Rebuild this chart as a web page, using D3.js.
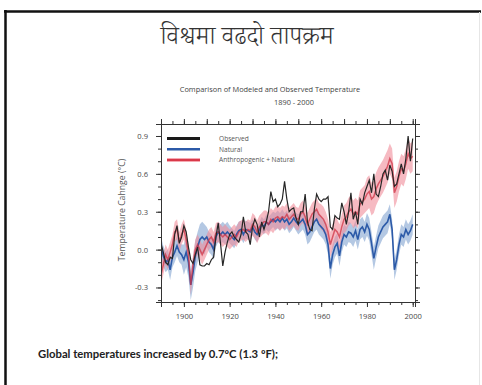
<!DOCTYPE html>
<html>
<head>
<meta charset="utf-8">
<script src="https://cdn.jsdelivr.net/npm/d3@7"></script>
<style>
  html, body { margin: 0; padding: 0; background: #fff; }
  svg { display: block; }
</style>
</head>
<body>
<div id="chart"></div>
<script>
// years on the x axis
const years = d3.range(1890, 2001);

// observed anomaly (black)
const observed = [
  0.05, -0.02, -0.10, -0.12, -0.06, -0.07, 0.12, 0.19, 0.05, 0.10,
  0.19, 0.14, 0.02, -0.08, -0.11, -0.04, 0.02, -0.12, -0.13, -0.13,
  -0.11, -0.12, -0.08, -0.06, 0.10, 0.21, 0.05, -0.13, -0.02, 0.06,
  0.12, 0.14, 0.10, 0.08, 0.06, 0.12, 0.26, 0.14, 0.12, 0.04,
  0.18, 0.24, 0.20, 0.10, 0.22, 0.16, 0.22, 0.30, 0.46, 0.38,
  0.40, 0.34, 0.36, 0.40, 0.54, 0.40, 0.30, 0.32, 0.33, 0.25,
  0.20, 0.30, 0.30, 0.44, 0.22, 0.16, 0.15, 0.32, 0.44, 0.40,
  0.38, 0.40, 0.40, 0.42, 0.18, 0.16, 0.27, 0.25, 0.24, 0.37,
  0.30, 0.20, 0.30, 0.45, 0.24, 0.30, 0.20, 0.40, 0.36, 0.45,
  0.50, 0.55, 0.45, 0.60, 0.44, 0.42, 0.50, 0.60, 0.63, 0.55,
  0.67, 0.62, 0.50, 0.52, 0.60, 0.68, 0.60, 0.72, 0.90, 0.70,
  0.88
];

// natural forcing model (blue)
const natural = [
  0.02, -0.05, -0.10, -0.08, -0.16, -0.06, -0.02, 0.03, -0.02, -0.04,
  -0.08, -0.02, -0.10, -0.28, -0.18, -0.05, 0.02, 0.08, 0.10, 0.08,
  0.10, 0.06, 0.04, 0.00, 0.10, 0.14, 0.12, 0.14, 0.12, 0.14,
  0.12, 0.10, 0.08, 0.12, 0.15, 0.16, 0.12, 0.16, 0.15, 0.14,
  0.18, 0.14, 0.12, 0.16, 0.20, 0.18, 0.22, 0.20, 0.22, 0.24,
  0.22, 0.24, 0.22, 0.25, 0.22, 0.24, 0.20, 0.22, 0.25, 0.22,
  0.20, 0.22, 0.24, 0.20, 0.12, 0.14, 0.18, 0.22, 0.24, 0.20,
  0.18, 0.16, 0.12, 0.04, -0.15, -0.04, 0.02, 0.05, -0.05, 0.06,
  0.12, 0.10, 0.14, 0.13, 0.10, 0.15, 0.08, 0.16, 0.18, 0.14,
  0.20, 0.16, 0.05, -0.07, 0.02, 0.10, 0.14, 0.18, 0.20, 0.22,
  0.28, 0.16, -0.16, -0.08, 0.04, 0.12, 0.10, 0.16, 0.12, 0.15,
  0.20
];

// anthropogenic + natural model (red)
const combined = [
  -0.20, -0.12, -0.04, -0.08, -0.02, 0.04, 0.14, 0.16, 0.06, 0.12,
  0.16, 0.08, -0.04, -0.28, -0.12, 0.00, 0.04, 0.00, -0.04, 0.00,
  0.04, 0.08, 0.10, 0.06, 0.13, 0.14, 0.12, 0.10, 0.12, 0.10,
  0.08, 0.10, 0.12, 0.10, 0.14, 0.15, 0.16, 0.14, 0.16, 0.15,
  0.20, 0.18, 0.14, 0.18, 0.20, 0.22, 0.22, 0.20, 0.24, 0.22,
  0.25, 0.26, 0.24, 0.26, 0.25, 0.28, 0.24, 0.26, 0.28, 0.25,
  0.24, 0.28, 0.30, 0.26, 0.20, 0.24, 0.28, 0.30, 0.32, 0.28,
  0.26, 0.24, 0.20, 0.14, 0.04, 0.10, 0.16, 0.14, 0.10, 0.18,
  0.24, 0.26, 0.30, 0.32, 0.28, 0.30, 0.28, 0.36, 0.38, 0.40,
  0.44, 0.46, 0.40, 0.42, 0.48, 0.52, 0.55, 0.58, 0.62, 0.66,
  0.72, 0.68, 0.45, 0.50, 0.58, 0.64, 0.62, 0.68, 0.76, 0.72,
  0.74
];

// half-width of the shaded ranges, one value per decade (1890s ... 2000)
const naturalSpread  = [0.08, 0.12, 0.08, 0.07, 0.06, 0.07, 0.08, 0.08, 0.08, 0.09, 0.08, 0.08];
const combinedSpread = [0.08, 0.08, 0.08, 0.08, 0.09, 0.09, 0.09, 0.10, 0.11, 0.13, 0.12, 0.12];

const xMajorTicks = [1900, 1920, 1940, 1960, 1980, 2000];
const yMajorTicks = [-0.3, 0.0, 0.3, 0.6, 0.9];

const legendLabels = ["Observed", "Natural", "Anthropogenic + Natural"];

const W = 482, H = 385;
const margin = { left: 161, right: 67, top: 124, bottom: 83 };
const innerW = W - margin.left - margin.right;
const innerH = H - margin.top - margin.bottom;

const svg = d3.select("#chart").append("svg")
  .attr("width", W)
  .attr("height", H);

// slide frame
svg.append("line").attr("x1", 4).attr("x2", 481).attr("y1", 11.5).attr("y2", 11.5)
  .attr("stroke", "#111").attr("stroke-width", 2.5);
svg.append("line").attr("x1", 5.5).attr("x2", 5.5).attr("y1", 10).attr("y2", H)
  .attr("stroke", "#111").attr("stroke-width", 2.5);
svg.append("line").attr("x1", 479.5).attr("x2", 479.5).attr("y1", 12).attr("y2", H)
  .attr("stroke", "#e6e6e6").attr("stroke-width", 1);

// slide heading
svg.append("text")
  .attr("x", 247).attr("y", 44)
  .attr("text-anchor", "middle")
  .style("font-family", "'Noto Serif Devanagari','Noto Sans Devanagari','Lohit Devanagari',serif")
  .style("font-size", "25px")
  .style("font-weight", "300")
  .style("fill", "#333")
  .text("विश्वमा वढदो तापक्रम");

// chart title
const titleFont = sel => sel
  .attr("text-anchor", "middle")
  .style("font-family", "'Open Sans', sans-serif")
  .style("font-size", "7.4px")
  .style("fill", "#444");
svg.append("text").attr("x", 270).attr("y", 92).call(titleFont)
  .text("Comparison of Modeled and Observed Temperature");
svg.append("text").attr("x", 294).attr("y", 105).call(titleFont)
  .text("1890 - 2000");

const g = svg.append("g")
  .attr("transform", "translate(" + margin.left + "," + margin.top + ")");

const x = d3.scaleLinear().domain([1890, 2001]).range([0, innerW]);
const y = d3.scaleLinear().domain([-0.415, 0.995]).range([innerH, 0]);

const decade = yr => Math.min(Math.floor((yr - 1890) / 10), 11);

const rows = years.map((yr, i) => ({
  year: yr,
  obs: observed[i],
  nat: natural[i],
  comb: combined[i],
  natS: naturalSpread[decade(yr)],
  combS: combinedSpread[decade(yr)]
}));

g.append("defs").append("clipPath").attr("id", "plotClip")
  .append("rect").attr("width", innerW).attr("height", innerH);

const plot = g.append("g").attr("clip-path", "url(#plotClip)");

// shaded model ranges
plot.append("path")
  .datum(rows)
  .attr("fill", "#9bb6d9")
  .attr("fill-opacity", 0.75)
  .attr("d", d3.area().x(d => x(d.year)).y0(d => y(d.nat - d.natS)).y1(d => y(d.nat + d.natS)));

plot.append("path")
  .datum(rows)
  .attr("fill", "#f08c9a")
  .attr("fill-opacity", 0.6)
  .attr("d", d3.area().x(d => x(d.year)).y0(d => y(d.comb - d.combS)).y1(d => y(d.comb + d.combS)));

// lines
plot.append("path")
  .datum(rows)
  .attr("fill", "none")
  .attr("stroke", "#2c5aa8")
  .attr("stroke-width", 1.6)
  .attr("d", d3.line().x(d => x(d.year)).y(d => y(d.nat)));

plot.append("path")
  .datum(rows)
  .attr("fill", "none")
  .attr("stroke", "#cf3446")
  .attr("stroke-opacity", 0.75)
  .attr("stroke-width", 1.5)
  .attr("d", d3.line().x(d => x(d.year)).y(d => y(d.comb)));

plot.append("path")
  .datum(rows)
  .attr("fill", "none")
  .attr("stroke", "#262626")
  .attr("stroke-width", 1.2)
  .attr("d", d3.line().x(d => x(d.year)).y(d => y(d.obs)));

// axes
const axisColor = "#333";
const minorX = d3.range(1890, 2001, 5);
const minorY = d3.range(-4, 10).map(v => v / 10);
const yFormat = v => d3.format(".1f")(v).replace("−", "-");

function styleAxis(sel) {
  sel.select(".domain").attr("stroke", axisColor);
  sel.selectAll(".tick line").attr("stroke", axisColor);
  sel.selectAll("text")
    .style("font-family", "'Open Sans', sans-serif")
    .style("font-size", "7.6px")
    .style("fill", "#4a4a4a");
}

g.append("g").attr("transform", "translate(0," + innerH + ")")
  .call(d3.axisBottom(x).tickValues(minorX).tickSize(3).tickFormat(""))
  .call(styleAxis);
g.append("g").attr("transform", "translate(0," + innerH + ")")
  .call(d3.axisBottom(x).tickValues(xMajorTicks).tickSize(5).tickPadding(7).tickFormat(d3.format("d")))
  .call(styleAxis);

g.append("g")
  .call(d3.axisTop(x).tickValues(minorX).tickSize(3).tickFormat(""))
  .call(styleAxis);
g.append("g")
  .call(d3.axisTop(x).tickValues(d3.range(1890, 2001, 10)).tickSize(5).tickFormat(""))
  .call(styleAxis);

g.append("g")
  .call(d3.axisLeft(y).tickValues(minorY).tickSize(3).tickFormat(""))
  .call(styleAxis);
g.append("g")
  .call(d3.axisLeft(y).tickValues(yMajorTicks).tickSize(5).tickPadding(8).tickFormat(yFormat))
  .call(styleAxis);

g.append("g").attr("transform", "translate(" + innerW + ",0)")
  .call(d3.axisRight(y).tickValues(minorY).tickSize(3).tickFormat(""))
  .call(styleAxis);
g.append("g").attr("transform", "translate(" + innerW + ",0)")
  .call(d3.axisRight(y).tickValues(yMajorTicks).tickSize(5).tickFormat(""))
  .call(styleAxis);

// y axis title
svg.append("text")
  .attr("transform", "translate(125,210) rotate(-90)")
  .attr("text-anchor", "middle")
  .style("font-family", "'Open Sans', sans-serif")
  .style("font-size", "8.7px")
  .style("fill", "#555")
  .text("Temperature Cahnge (°C)");

// legend
const legendColors = ["#1a1a1a", "#2c5aa8", "#d9394a"];
const legendWidths = [3, 2.4, 2];
const legend = g.selectAll(".legend")
  .data(legendLabels)
  .enter().append("g")
  .attr("class", "legend")
  .attr("transform", (d, i) => "translate(6," + (14.5 + i * 10.7) + ")");

legend.filter((d, i) => i === 2).append("line")
  .attr("x1", 0).attr("x2", 33)
  .attr("stroke", "#f6a9b2").attr("stroke-width", 4);

legend.append("line")
  .attr("x1", 0).attr("x2", 33)
  .attr("stroke", (d, i) => legendColors[i])
  .attr("stroke-width", (d, i) => legendWidths[i]);

legend.append("text")
  .attr("x", 52).attr("y", 2.4)
  .style("font-family", "'Open Sans', sans-serif")
  .style("font-size", "6.6px")
  .style("fill", "#555")
  .text(d => d);

// footnote
svg.append("text")
  .attr("x", 38).attr("y", 358)
  .attr("textLength", 240)
  .attr("lengthAdjust", "spacingAndGlyphs")
  .style("font-family", "Lato, 'Liberation Sans', sans-serif")
  .style("font-weight", "bold")
  .style("font-size", "10.5px")
  .style("fill", "#222")
  .text("Global temperatures increased by 0.7ºC (1.3 ºF);");
</script>
</body>
</html>
